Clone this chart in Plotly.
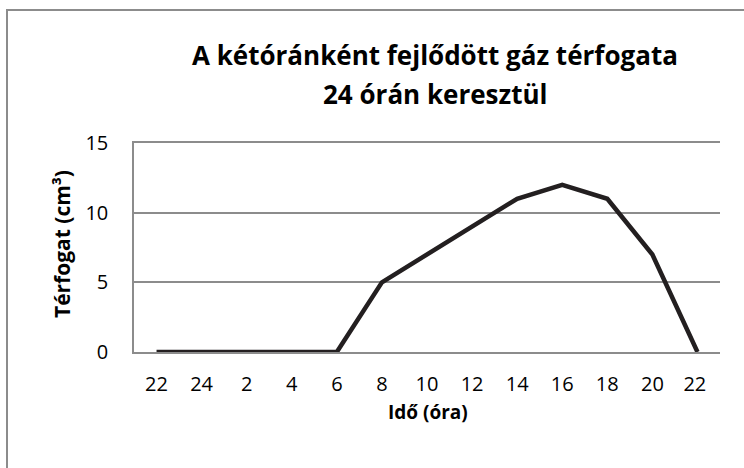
import plotly.graph_objects as go

hours = ['22', '24', '2', '4', '6', '8', '10', '12', '14', '16', '18', '20', '22 ']
volume = [0, 0, 0, 0, 0, 5, 7, 9, 11, 12, 11, 7, 0]
y_ticks = [0, 5, 10, 15]
title_lines = ['A kétóránként fejlődött gáz térfogata', '24 órán keresztül']

FONT = 'Open Sans'
GRID = '#8c8c8c'
W, H = 744, 468
L, R, T, B = 134, 24, 143, 116
PW, PH = W - L - R, H - T - B


def px_x(px):
    # pixelből papír-koordináta (vízszintes)
    return (px - L) / PW


def px_y(py):
    return (H - B - py) / PH


fig = go.Figure()

fig.add_trace(go.Scatter(x=hours,
                         y=volume,
                         mode='lines',
                         line=dict(color='#231f20', width=4.5),
                         showlegend=False))

# keret a diagram köré
fig.add_shape(type='rect', xref='paper', yref='paper',
              x0=px_x(7), x1=px_x(760), y0=px_y(480), y1=px_y(10),
              line=dict(color=GRID, width=2), layer='below')

fig.update_xaxes(type='category',
                 range=[-0.5, 12.5],
                 showgrid=False,
                 showline=True,
                 mirror=True,
                 linecolor=GRID,
                 linewidth=1.5,
                 zeroline=False,
                 ticks='',
                 ticklabelstandoff=13,
                 automargin=False,
                 tickfont=dict(family=FONT, size=20, color='black'))

fig.update_yaxes(range=[0, 15],
                 tickvals=y_ticks,
                 showgrid=True,
                 gridcolor=GRID,
                 gridwidth=1.5,
                 showline=True,
                 linecolor=GRID,
                 linewidth=1.5,
                 zeroline=False,
                 ticks='',
                 ticklabelstandoff=20,
                 automargin=False,
                 tickfont=dict(family=FONT, size=20, color='black'))

for text, py in zip(title_lines, [55, 94]):
    fig.add_annotation(text='<b>' + text + '</b>', xref='paper', yref='paper',
                       x=px_x(435), y=px_y(py), xanchor='center', yanchor='middle',
                       showarrow=False,
                       font=dict(family=FONT, size=26, color='black'))

fig.add_annotation(text='<b>Idő (óra)</b>', xref='paper', yref='paper',
                   x=px_x(428), y=px_y(412), xanchor='center', yanchor='middle',
                   showarrow=False,
                   font=dict(family=FONT, size=19, color='black'))

fig.add_annotation(text='<b>Térfogat (cm³)</b>', xref='paper', yref='paper',
                   x=px_x(62), y=px_y(244), xanchor='center', yanchor='middle',
                   textangle=-90, showarrow=False,
                   font=dict(family=FONT, size=21, color='black'))

fig.update_layout(width=W,
                  height=H,
                  margin=dict(l=L, r=R, t=T, b=B),
                  paper_bgcolor='white',
                  plot_bgcolor='white')

# az oldal alapértelmezett 8px-es margója nélkül
fig.write_html('out.html', config={'displayModeBar': False},
               post_script="document.body.style.margin='0';")
